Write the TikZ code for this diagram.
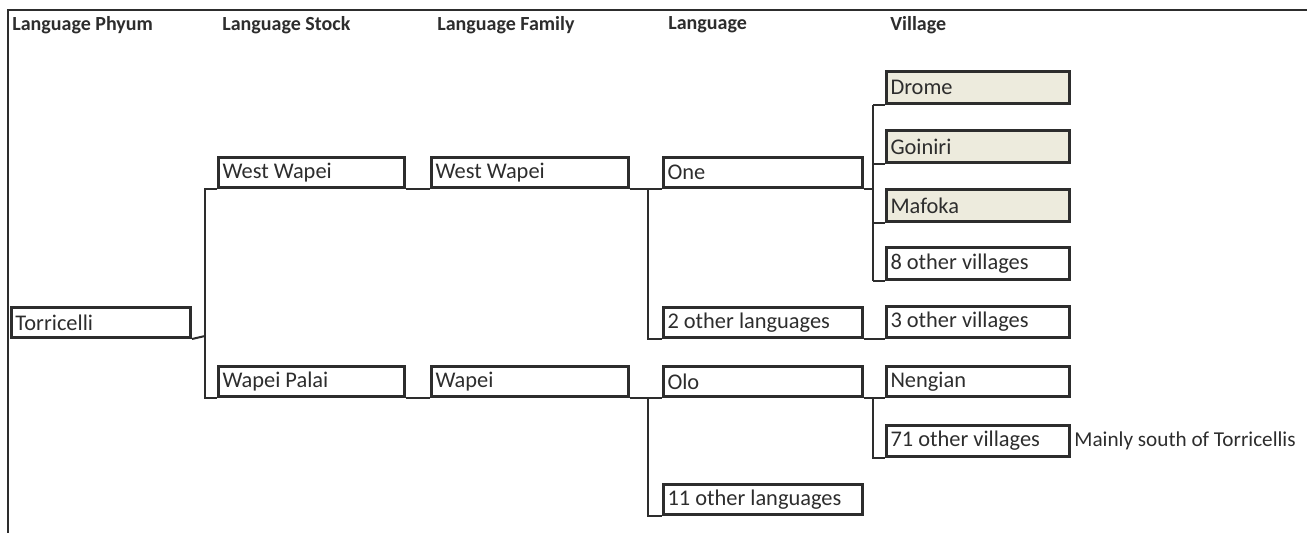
\documentclass[tikz,border=0pt]{standalone}
\usepackage{fontspec}
\setmainfont{Carlito}
\usetikzlibrary{positioning}

\definecolor{ink}{RGB}{45,45,45}
\definecolor{villagefill}{RGB}{237,235,221}

\tikzset{
  box/.style={draw=ink, line width=1.5pt, anchor=north west, align=flush left,
    inner xsep=2pt, inner ysep=0pt, minimum height=15pt,
    font=\fontsize{11.2}{12}\selectfont, text=ink},
  vbox/.style={box, text width=87.5pt},
  lbox/.style={box, text width=95.5pt},
  heading/.style={anchor=west, inner sep=0pt, text=ink,
    font=\fontsize{10}{12}\selectfont\bfseries},
  link/.style={draw=ink, line width=1pt},
}

\begin{document}
\begin{tikzpicture}[x=0.5pt, y=-0.5pt]

  \useasboundingbox (0,0) rectangle (1307,533);

  % Frame
  \draw[ink, line width=1.4pt] (8,533) -- (8,10) -- (1307,10);

  % Headings
  \node[heading] (hPhylum) at (12,25)  {Language Phyum}; %
  \node[heading] (hStock)  at (222,25) {Language Stock}; %
  \node[heading] (hFamily) at (437,25) {Language Family}; %
  \node[heading] (hLang)   at (668,25) {Language}; %
  \node[heading] (hVill)   at (890,25) {Village}; %

  % Layout the boxes
  \node[box, text width=85.5pt] (phylum)  at (10,306)  {Torricelli}; %
  \node[box, text width=89pt]   (stockW)  at (217,156) {West Wapei}; %
  \node[box, text width=89pt]   (stockP)  at (217,365) {Wapei Palai}; %
  \node[box, text width=94.5pt] (familyW) at (430,156) {West Wapei}; %
  \node[box, text width=94.5pt] (familyP) at (430,365) {Wapei}; %

  \node[lbox] (langOne)    at (662,156) {One}; %
  \node[lbox] (langTwo)    at (662,306) {2 other languages}; %
  \node[lbox] (langOlo)    at (662,365) {Olo}; %
  \node[lbox] (langEleven) at (662,483) {11 other languages}; %

  \node[vbox, fill=villagefill, minimum height=16pt] (vDrome)   at (885,70)  {Drome}; %
  \node[vbox, fill=villagefill, minimum height=16pt] (vGoiniri) at (885,129) {Goiniri}; %
  \node[vbox, fill=villagefill, minimum height=16pt] (vMafoka)  at (885,188) {Mafoka}; %
  \node[vbox, minimum height=16pt]   (vEight)      at (885,246) {8 other villages}; %
  \node[vbox, minimum height=15.5pt] (vThree)      at (885,305) {3 other villages}; %
  \node[vbox]                        (vNengian)    at (885,365) {Nengian}; %
  \node[vbox, minimum height=15.5pt] (vSeventyOne) at (885,424) {71 other villages}; %

  \node[anchor=west, inner sep=0pt, text=ink, font=\fontsize{10.6}{12}\selectfont,
    right=1.5pt of vSeventyOne] (note) {Mainly south of Torricellis}; %

  % Branch points
  \coordinate (trunk) at (205,336); %
  \path (familyW.south east) ++(18,0) coordinate (forkW); %
  \path (familyP.south east) ++(18,0) coordinate (forkP); %
  \path (langOne.south east) ++(9,0)  coordinate (forkOne); %
  \path (langOlo.south east) ++(9,0)  coordinate (forkOlo); %

  % Connections
  \draw[link] (phylum.south east) -- (trunk); %
  \draw[link] (stockW.south west) -| (trunk) |- (stockP.south west); %

  \draw[link] (stockW.south east) -- (familyW.south west); %
  \draw[link] (familyW.south east) -- (langOne.south west); %
  \draw[link] (forkW) |- (langTwo.south west); %
  \draw[link] (langTwo.south east) -- (vThree.south west); %

  \draw[link] (stockP.south east) -- (familyP.south west); %
  \draw[link] (familyP.south east) -- (langOlo.south west); %
  \draw[link] (forkP) |- (langEleven.south west); %
  \draw[link] (langOlo.south east) -- (vNengian.south west); %
  \draw[link] (forkOlo) |- (vSeventyOne.south west); %

  \draw[link] (langOne.south east) -- (forkOne); %
  \draw[link] (forkOne |- vDrome.south west) -- (forkOne |- vEight.south west); %
  \foreach \v in {vDrome, vGoiniri, vMafoka, vEight}
    \draw[link] (forkOne |- \v.south west) -- (\v.south west); %

\end{tikzpicture}
\end{document}
